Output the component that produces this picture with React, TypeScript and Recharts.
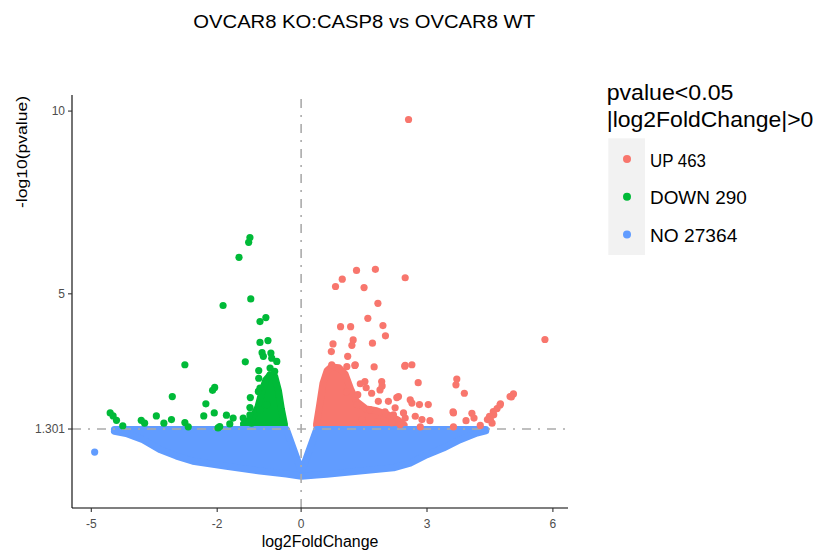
import React from 'react';
import { ComposedChart, Area, Scatter, XAxis, YAxis, ReferenceLine } from 'recharts';

const titleText = 'OVCAR8 KO:CASP8 vs OVCAR8 WT';
const xLabel = 'log2FoldChange';
const yLabel = '-log10(pvalue)';
const legendTitle = ['pvalue<0.05', '|log2FoldChange|>0'];
const legendLabels = ['UP 463', 'DOWN 290', 'NO 27364'];

const xTicks = [-5, -2, 0, 3, 6];
const yTicks = [1.301, 5, 10];
const pThreshold = 1.301;

// UP (significant, positive fold change): [log2FoldChange, -log10(pvalue)]
const upPoints: [number, number][] = [
  [2.56, 9.77], [1.32, 5.64], [1.77, 5.67], [0.98, 5.4], [0.82, 5.2], [1.5, 5.17], [2.48, 5.44],
  [1.83, 4.74], [1.59, 4.33], [0.94, 4.1], [1.18, 4.1], [1.95, 4.13], [2.01, 3.85], [0.76, 3.63],
  [0.72, 3.42], [1.24, 3.74], [1.21, 3.59], [1.7, 3.65], [1.11, 3.29], [1.29, 3.06], [1.74, 3.0],
  [2.48, 3.04], [0.73, 3.06], [1.52, 2.6], [1.92, 2.6], [1.88, 2.37], [2.28, 2.16], [5.81, 3.75],
  [2.47, 3.02], [2.64, 3.06], [2.79, 2.57], [3.71, 2.67], [3.69, 2.51], [3.89, 2.28], [5.06, 2.26],
  [5.01, 2.18], [2.6, 2.1], [2.64, 2.01], [2.82, 1.97], [3.03, 1.97], [4.75, 1.99], [4.67, 1.86],
  [4.58, 1.78], [3.62, 1.77], [4.07, 1.73], [4.12, 1.6], [4.49, 1.65], [4.44, 1.56], [2.72, 1.65],
  [2.88, 1.56], [3.07, 1.53], [2.48, 1.6], [3.93, 1.53], [4.27, 1.4], [4.55, 1.46], [3.63, 1.36],
  [2.84, 1.36], [2.32, 2.19], [1.68, 2.28], [1.84, 2.06], [2.08, 2.06], [2.2, 1.69], [2.44, 1.74],
  [3.63, 1.74], [4.51, 1.56], [4.59, 1.69], [4.74, 1.96], [4.98, 2.19], [1.28, 3.04], [1.09, 3.01],
  [1.41, 2.54], [1.55, 2.43], [1.93, 2.48], [1.33, 1.97], [1.64, 1.83], [2.0, 1.77], [2.24, 1.88],
  [1.45, 1.56], [1.83, 1.5], [2.16, 1.47], [2.36, 1.42], [1.35, 2.24], [1.09, 2.32],
];

// DOWN (significant, negative fold change)
const downPoints: [number, number][] = [
  [-1.22, 6.54], [-1.25, 6.41], [-1.48, 6.0], [-1.2, 4.86], [-1.86, 4.68], [-0.84, 4.35], [-0.98, 4.24],
  [-0.79, 3.72], [-0.98, 3.67], [-0.93, 3.39], [-0.72, 3.38], [-0.9, 3.29], [-0.7, 3.24], [-0.58, 3.15],
  [-1.33, 3.14], [-1.01, 2.9], [-1.01, 2.69], [-0.74, 2.78], [-2.06, 2.44], [-2.11, 2.36], [-0.98, 2.42],
  [-1.21, 2.16], [-2.27, 1.99], [-0.98, 1.82], [-2.07, 1.74], [-1.78, 1.68], [-2.32, 1.66], [-1.62, 1.6],
  [-1.38, 1.6], [-1.22, 1.69], [-1.94, 1.37], [-1.7, 1.44], [-1.18, 1.46], [-2.77, 3.06], [-3.07, 2.19],
  [-4.55, 1.74], [-4.48, 1.66], [-4.4, 1.54], [-4.25, 1.39], [-3.81, 1.54], [-3.73, 1.46], [-3.45, 1.66],
  [-3.27, 1.46], [-3.09, 1.56], [-2.77, 1.48], [-2.69, 1.36], [-1.98, 1.33], [-0.74, 2.97], [-0.63, 2.88],
  [-1.02, 2.33], [-1.22, 1.89], [-0.82, 1.97],
];

// NO (not significant) isolated points
const noPoints: [number, number][] = [[-4.92, 0.67]];

// Dense point masses read as envelopes: [log2FoldChange, low, high]
const noEnvelope: [number, number, number][] = [
  [-4.45, 1.24, 1.29], [-4.17, 1.18, 1.29], [-3.77, 1.01, 1.29], [-3.37, 0.74, 1.29], [-2.97, 0.56, 1.29],
  [-2.58, 0.42, 1.29], [-1.78, 0.28, 1.29], [-0.98, 0.15, 1.29], [-0.35, 0.07, 1.29], [0.01, 0.01, 0.14],
  [0.37, 0.04, 1.29], [0.61, 0.06, 1.29], [1.4, 0.15, 1.29], [2.2, 0.24, 1.29], [2.6, 0.37, 1.29],
  [3.0, 0.6, 1.29], [3.39, 0.78, 1.29], [3.79, 1.01, 1.29], [4.19, 1.19, 1.29], [4.4, 1.25, 1.29],
];
const upCore: [number, number, number][] = [
  [0.37, 1.4, 1.45], [0.44, 1.4, 1.95], [0.52, 1.4, 2.55], [0.62, 1.4, 2.9], [0.72, 1.4, 3.0],
  [0.9, 1.4, 2.98], [1.05, 1.4, 2.8], [1.18, 1.4, 2.4], [1.32, 1.4, 2.05], [1.55, 1.4, 1.85],
  [1.8, 1.4, 1.8], [2.05, 1.4, 1.7], [2.3, 1.4, 1.55], [2.45, 1.4, 1.42],
];
const downCore: [number, number, number][] = [
  [-1.37, 1.4, 1.45], [-1.17, 1.4, 1.6], [-1.03, 1.4, 1.9], [-0.94, 1.4, 2.3], [-0.84, 1.4, 2.65],
  [-0.74, 1.4, 2.78], [-0.63, 1.4, 2.75], [-0.54, 1.4, 2.35], [-0.47, 1.4, 1.85], [-0.4, 1.4, 1.45],
];

const COLORS = { up: '#F8766D', down: '#00BA38', no: '#619CFF' };
const FONT = '"Liberation Sans", Arial, Helvetica, sans-serif';

const toPts = (arr: [number, number][]) => arr.map(([x, y]) => ({ x, y }));
const envRows = [
  ...downCore.map(([x, lo, hi]) => ({ x, down: [lo, hi] })),
  ...upCore.map(([x, lo, hi]) => ({ x, up: [lo, hi] })),
  ...noEnvelope.map(([x, lo, hi]) => ({ x, no: [lo, hi] })),
].sort((a, b) => a.x - b.x);

const dot = (color: string) => (props: any) => (
  <circle cx={props.cx} cy={props.cy} r={3.6} fill={color} />
);

const areaProps = (color: string) => ({
  type: 'linear' as const,
  fill: color,
  stroke: color,
  strokeWidth: 7,
  strokeLinejoin: 'round' as const,
  strokeLinecap: 'round' as const,
  fillOpacity: 1,
  connectNulls: true,
  isAnimationActive: false,
  dot: false,
  activeDot: false,
});

export default function App() {
  const legendColors = [COLORS.up, COLORS.down, COLORS.no];
  const legendWidths = [56, 96.7, 87.3];
  return (
    <div style={{ position: 'absolute', left: 0, top: 0, width: 817, height: 550, background: '#fff' }}>
      <ComposedChart
        width={817}
        height={550}
        data={envRows}
        margin={{ top: 95, right: 249, bottom: 0, left: 0 }}
      >
        <XAxis
          type="number"
          dataKey="x"
          domain={[-5.46, 6.36]}
          allowDataOverflow
          ticks={xTicks}
          interval={0}
          height={42}
          tickSize={4}
          tickMargin={7}
          axisLine={{ stroke: '#000', strokeWidth: 1.1 }}
          tickLine={{ stroke: '#333', strokeWidth: 1.1 }}
          tick={{ fill: '#4d4d4d', fontSize: 12, fontFamily: FONT }}
        />
        <YAxis
          type="number"
          dataKey="y"
          domain={[-0.86, 10.44]}
          allowDataOverflow
          ticks={yTicks}
          interval={0}
          width={72}
          tickSize={4}
          tickMargin={3}
          axisLine={{ stroke: '#000', strokeWidth: 1.1 }}
          tickLine={{ stroke: '#333', strokeWidth: 1.1 }}
          tick={{ fill: '#4d4d4d', fontSize: 12, fontFamily: FONT }}
        />
        <Area dataKey="up" {...areaProps(COLORS.up)} />
        <Area dataKey="down" {...areaProps(COLORS.down)} />
        <Scatter data={toPts(upPoints)} dataKey="y" fill={COLORS.up} shape={dot(COLORS.up)} isAnimationActive={false} />
        <Scatter data={toPts(downPoints)} dataKey="y" fill={COLORS.down} shape={dot(COLORS.down)} isAnimationActive={false} />
        <Area dataKey="no" {...areaProps(COLORS.no)} />
        <Scatter data={toPts(noPoints)} dataKey="y" fill={COLORS.no} shape={dot(COLORS.no)} isAnimationActive={false} />
        <ReferenceLine x={0} stroke="#ababab" strokeWidth={1.6} strokeDasharray="9 7 2 7" />
        <ReferenceLine y={pThreshold} stroke="#ababab" strokeWidth={1.6} strokeDasharray="9 7 2 7" />
      </ComposedChart>
      <svg
        width={817}
        height={550}
        style={{ position: 'absolute', left: 0, top: 0, pointerEvents: 'none' }}
        fontFamily={FONT}
      >
        <text x={193.3} y={28.3} fontSize={18} fill="#000" textLength={341.7} lengthAdjust="spacingAndGlyphs">
          {titleText}
        </text>
        <text x={320} y={547.3} fontSize={16} fill="#000" textAnchor="middle" textLength={116.7} lengthAdjust="spacingAndGlyphs">
          {xLabel}
        </text>
        <text
          transform="translate(27,152) rotate(-90)"
          fontSize={15}
          fill="#000"
          textAnchor="middle"
          textLength={112}
          lengthAdjust="spacingAndGlyphs"
        >
          {yLabel}
        </text>
        <text x={606.7} y={100} fontSize={22} fill="#000" textLength={126.7} lengthAdjust="spacingAndGlyphs">
          {legendTitle[0]}
        </text>
        <text x={606.7} y={127.3} fontSize={22} fill="#000" textLength={206.7} lengthAdjust="spacingAndGlyphs">
          {legendTitle[1]}
        </text>
        <rect x={608.3} y={138.3} width={36.7} height={116.7} fill="#F2F2F2" />
        {legendLabels.map((label, i) => (
          <g key={label}>
            <circle cx={627} cy={159 + i * 37.7} r={4} fill={legendColors[i]} />
            <text
              x={650}
              y={166.5 + i * 37.7}
              fontSize={18}
              fill="#000"
              textLength={legendWidths[i]}
              lengthAdjust="spacingAndGlyphs"
            >
              {label}
            </text>
          </g>
        ))}
      </svg>
    </div>
  );
}
